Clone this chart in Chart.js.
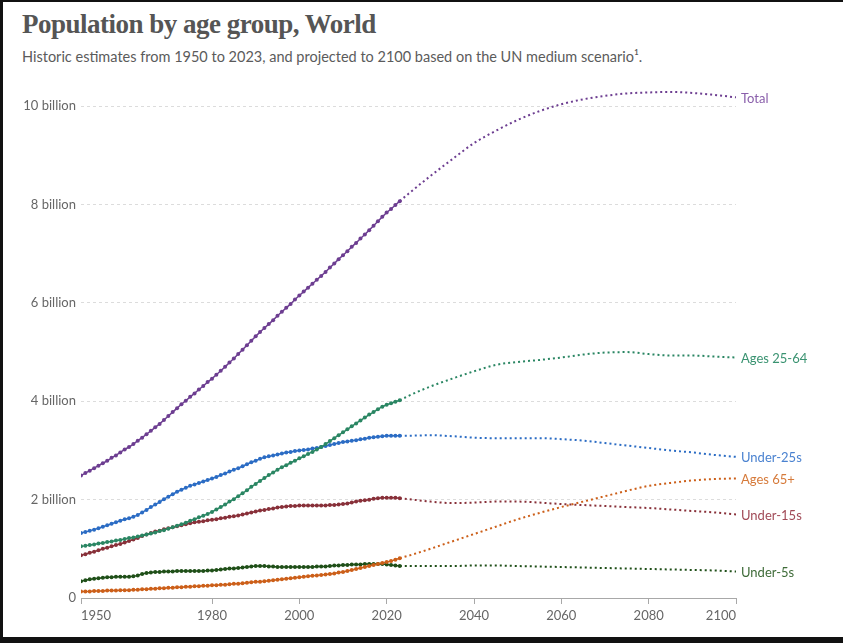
<!DOCTYPE html>
<html>
<head>
<meta charset="utf-8">
<script src="https://cdn.jsdelivr.net/npm/chart.js@4/dist/chart.umd.min.js"></script>
<style>
  body { margin: 0; background: #fff; width: 843px; height: 643px; position: relative; overflow: hidden; }
  #frame { position: absolute; left: 0; top: 0; width: 843px; height: 643px; box-sizing: border-box;
    border-top: 2px solid #111; border-left: 3px solid #111; border-bottom: 6px solid #111; pointer-events: none; }
  #title { position: absolute; left: 22px; top: 6px; font-family: "Liberation Serif", serif; font-size: 27px;
    font-weight: bold; color: #555; line-height: 36px; letter-spacing: -0.5px; }
  #subtitle { position: absolute; left: 22px; top: 46px; font-family: Lato, sans-serif; font-size: 14.5px;
    color: #5b5b5b; line-height: 22px; }
  #box { position: absolute; left: 0; top: 76px; width: 843px; height: 561px; }
</style>
</head>
<body>
<div id="title">Population by age group, World</div>
<div id="subtitle">Historic estimates from 1950 to 2023, and projected to 2100 based on the UN medium scenario¹.</div>
<div id="box"><canvas id="js-chart"></canvas></div>
<div id="frame"></div>
<script>
// x axis
const xTicks = [1950, 1980, 2000, 2020, 2040, 2060, 2080, 2100];
const yTicks = [0, 2, 4, 6, 8, 10];

// historic estimates, one value per year 1950..2023 (billions)
const histYears = Array.from({ length: 74 }, (_, i) => 1950 + i);
const totalHist = [
  2.49, 2.54, 2.59, 2.64, 2.69, 2.74, 2.79, 2.85, 2.90, 2.96,
  3.02, 3.07, 3.13, 3.20, 3.26, 3.33, 3.40, 3.47, 3.54, 3.62,
  3.70, 3.78, 3.86, 3.94, 4.01, 4.09, 4.16, 4.24, 4.31, 4.39,
  4.46, 4.54, 4.62, 4.70, 4.79, 4.87, 4.96, 5.05, 5.14, 5.23,
  5.32, 5.41, 5.49, 5.57, 5.65, 5.74, 5.82, 5.90, 5.98, 6.07,
  6.15, 6.23, 6.31, 6.39, 6.47, 6.55, 6.63, 6.72, 6.80, 6.89,
  6.97, 7.05, 7.14, 7.22, 7.31, 7.39, 7.48, 7.57, 7.66, 7.75,
  7.84, 7.91, 7.99, 8.07
];
const under25Hist = [
  1.32, 1.34, 1.37, 1.39, 1.42, 1.45, 1.48, 1.51, 1.54, 1.57,
  1.60, 1.62, 1.65, 1.69, 1.74, 1.79, 1.85, 1.90, 1.95, 2.01,
  2.06, 2.11, 2.16, 2.20, 2.24, 2.28, 2.31, 2.34, 2.37, 2.40,
  2.43, 2.46, 2.50, 2.53, 2.57, 2.61, 2.64, 2.68, 2.72, 2.76,
  2.79, 2.83, 2.86, 2.88, 2.90, 2.92, 2.94, 2.96, 2.97, 2.99,
  3.00, 3.01, 3.02, 3.04, 3.05, 3.07, 3.09, 3.11, 3.13, 3.15,
  3.17, 3.18, 3.20, 3.21, 3.23, 3.24, 3.26, 3.27, 3.28, 3.29,
  3.30, 3.30, 3.30, 3.30
];
const ages2564Hist = [
  1.05, 1.06, 1.08, 1.09, 1.11, 1.12, 1.14, 1.15, 1.17, 1.18,
  1.20, 1.22, 1.23, 1.25, 1.27, 1.29, 1.31, 1.33, 1.36, 1.38,
  1.41, 1.44, 1.47, 1.50, 1.53, 1.57, 1.60, 1.64, 1.67, 1.71,
  1.75, 1.80, 1.85, 1.90, 1.96, 2.01, 2.07, 2.13, 2.19, 2.26,
  2.32, 2.38, 2.44, 2.50, 2.55, 2.61, 2.66, 2.70, 2.75, 2.79,
  2.84, 2.88, 2.93, 2.97, 3.02, 3.07, 3.13, 3.19, 3.25, 3.31,
  3.37, 3.43, 3.49, 3.55, 3.61, 3.67, 3.73, 3.78, 3.84, 3.89,
  3.93, 3.96, 3.99, 4.02
];
const under15Hist = [
  0.87, 0.89, 0.92, 0.94, 0.97, 1.00, 1.02, 1.05, 1.08, 1.10,
  1.13, 1.16, 1.19, 1.22, 1.26, 1.29, 1.32, 1.35, 1.37, 1.40,
  1.42, 1.44, 1.46, 1.48, 1.50, 1.52, 1.54, 1.55, 1.56, 1.58,
  1.59, 1.60, 1.62, 1.63, 1.65, 1.66, 1.68, 1.70, 1.72, 1.74,
  1.76, 1.78, 1.79, 1.81, 1.82, 1.84, 1.85, 1.86, 1.87, 1.87,
  1.88, 1.88, 1.88, 1.88, 1.88, 1.88, 1.88, 1.89, 1.89, 1.90,
  1.91, 1.92, 1.94, 1.96, 1.98, 1.99, 2.00, 2.02, 2.03, 2.04,
  2.04, 2.04, 2.04, 2.03
];
const under5Hist = [
  0.34, 0.36, 0.38, 0.39, 0.40, 0.41, 0.42, 0.42, 0.43, 0.43,
  0.43, 0.43, 0.44, 0.46, 0.49, 0.51, 0.52, 0.53, 0.53, 0.54,
  0.54, 0.54, 0.55, 0.55, 0.55, 0.55, 0.55, 0.55, 0.55, 0.56,
  0.56, 0.57, 0.58, 0.59, 0.60, 0.60, 0.61, 0.62, 0.63, 0.64,
  0.65, 0.65, 0.65, 0.64, 0.64, 0.63, 0.63, 0.63, 0.63, 0.63,
  0.63, 0.63, 0.63, 0.63, 0.64, 0.64, 0.64, 0.65, 0.66, 0.66,
  0.67, 0.67, 0.68, 0.68, 0.68, 0.69, 0.69, 0.69, 0.69, 0.69,
  0.68, 0.67, 0.66, 0.65
];
const ages65Hist = [
  0.13, 0.13, 0.13, 0.14, 0.14, 0.14, 0.15, 0.15, 0.15, 0.16,
  0.16, 0.16, 0.17, 0.17, 0.18, 0.18, 0.19, 0.19, 0.20, 0.20,
  0.21, 0.21, 0.22, 0.22, 0.23, 0.23, 0.24, 0.24, 0.25, 0.25,
  0.26, 0.26, 0.27, 0.27, 0.28, 0.29, 0.29, 0.30, 0.31, 0.32,
  0.33, 0.33, 0.34, 0.35, 0.36, 0.37, 0.38, 0.39, 0.40, 0.41,
  0.42, 0.43, 0.44, 0.45, 0.46, 0.47, 0.48, 0.49, 0.50, 0.52,
  0.53, 0.55, 0.57, 0.59, 0.61, 0.63, 0.65, 0.67, 0.69, 0.71,
  0.73, 0.75, 0.78, 0.81
];

// UN medium scenario projections (billions)
const projYears = [2023, 2025, 2030, 2035, 2040, 2045, 2050, 2055, 2060, 2065, 2070, 2075, 2080, 2085, 2090, 2095, 2100];
const totalProj = [8.07, 8.22, 8.58, 8.92, 9.25, 9.50, 9.72, 9.90, 10.04, 10.14, 10.21, 10.26, 10.28, 10.29, 10.27, 10.23, 10.18];
const under25Proj = [3.30, 3.30, 3.31, 3.29, 3.26, 3.25, 3.25, 3.25, 3.23, 3.20, 3.15, 3.10, 3.05, 3.00, 2.96, 2.91, 2.87];
const ages2564Proj = [4.02, 4.11, 4.30, 4.46, 4.61, 4.74, 4.80, 4.84, 4.89, 4.95, 4.99, 5.00, 4.96, 4.93, 4.93, 4.91, 4.89];
const under15Proj = [2.03, 2.01, 1.96, 1.93, 1.94, 1.96, 1.96, 1.94, 1.91, 1.89, 1.87, 1.85, 1.83, 1.80, 1.77, 1.74, 1.70];
const under5Proj = [0.65, 0.65, 0.65, 0.65, 0.66, 0.66, 0.65, 0.64, 0.63, 0.62, 0.61, 0.60, 0.59, 0.58, 0.57, 0.56, 0.54];
const ages65Proj = [0.81, 0.86, 1.00, 1.15, 1.30, 1.45, 1.60, 1.73, 1.85, 1.96, 2.07, 2.18, 2.28, 2.34, 2.39, 2.42, 2.43];

const seriesNames = ["Total", "Ages 25-64", "Under-25s", "Ages 65+", "Under-15s", "Under-5s"];
const seriesColors = ["#6d3e91", "#2a8663", "#2b6cc4", "#cc5f19", "#883039", "#1f4f18"];
const labelColors = ["#8a5fab", "#3a9371", "#4a82d0", "#d67a3a", "#a14a57", "#3e6b38"];
const histData = [totalHist, ages2564Hist, under25Hist, ages65Hist, under15Hist, under5Hist];
const projData = [totalProj, ages2564Proj, under25Proj, ages65Proj, under15Proj, under5Proj];

const FONT = "Lato, sans-serif";

const datasets = [];
seriesNames.forEach((name, i) => {
  datasets.push({
    label: name,
    data: histYears.map((yr, j) => ({ x: yr, y: histData[i][j] })),
    borderColor: seriesColors[i],
    backgroundColor: seriesColors[i],
    borderWidth: 1.5,
    pointRadius: 2,
    pointBorderWidth: 0,
    pointBackgroundColor: seriesColors[i],
  });
  datasets.push({
    label: name + " (projection)",
    data: projYears.map((yr, j) => ({ x: yr, y: projData[i][j] })),
    borderColor: seriesColors[i],
    borderWidth: 2,
    borderDash: [2, 3],
    pointRadius: 0,
    cubicInterpolationMode: "monotone",
    endLabel: name,
    endColor: labelColors[i],
  });
});

// names at the right end of each projection line
const endLabels = {
  id: "endLabels",
  afterDatasetsDraw(chart) {
    const ctx = chart.ctx;
    const yScale = chart.scales.y;
    ctx.save();
    ctx.font = "13px " + FONT;
    ctx.textBaseline = "middle";
    ctx.textAlign = "left";
    chart.data.datasets.forEach((ds) => {
      if (!ds.endLabel) return;
      const last = ds.data[ds.data.length - 1];
      ctx.fillStyle = ds.endColor;
      ctx.fillText(ds.endLabel, chart.chartArea.right + 5, yScale.getPixelForValue(last.y) + 1);
    });
    ctx.restore();
  },
};

new Chart(document.getElementById("js-chart"), {
  type: "line",
  data: { datasets },
  options: {
    responsive: true,
    maintainAspectRatio: false,
    animation: false,
    layout: { padding: { top: 13, right: 107, bottom: 0, left: 0 } },
    plugins: { legend: { display: false }, tooltip: { enabled: false } },
    scales: {
      x: {
        type: "linear",
        min: 1950,
        max: 2100,
        afterBuildTicks: (scale) => { scale.ticks = xTicks.map((v) => ({ value: v })); },
        afterFit: (scale) => { scale.height = 39; },
        grid: { drawOnChartArea: false, drawTicks: true, tickLength: 6, color: "#a8a8a8" },
        border: { display: true, color: "#a8a8a8" },
        ticks: {
          align: "inner",
          autoSkip: false,
          maxRotation: 0,
          padding: 4,
          color: "#666",
          font: { family: FONT, size: 13 },
          callback: (v) => String(v),
        },
      },
      y: {
        min: 0,
        max: 10.35,
        afterBuildTicks: (scale) => { scale.ticks = yTicks.map((v) => ({ value: v })); },
        afterFit: (scale) => { scale.width = 81; },
        grid: {
          drawTicks: false,
          color: (c) => (c.tick && c.tick.value === 0 ? "rgba(0,0,0,0)" : "#dcdcdc"),
        },
        border: { display: false, dash: [3, 3] },
        ticks: {
          padding: 5,
          color: "#666",
          font: { family: FONT, size: 13 },
          callback: (v) => (v === 0 ? "0" : v + " billion"),
        },
      },
    },
  },
  plugins: [endLabels],
});
</script>
</body>
</html>
